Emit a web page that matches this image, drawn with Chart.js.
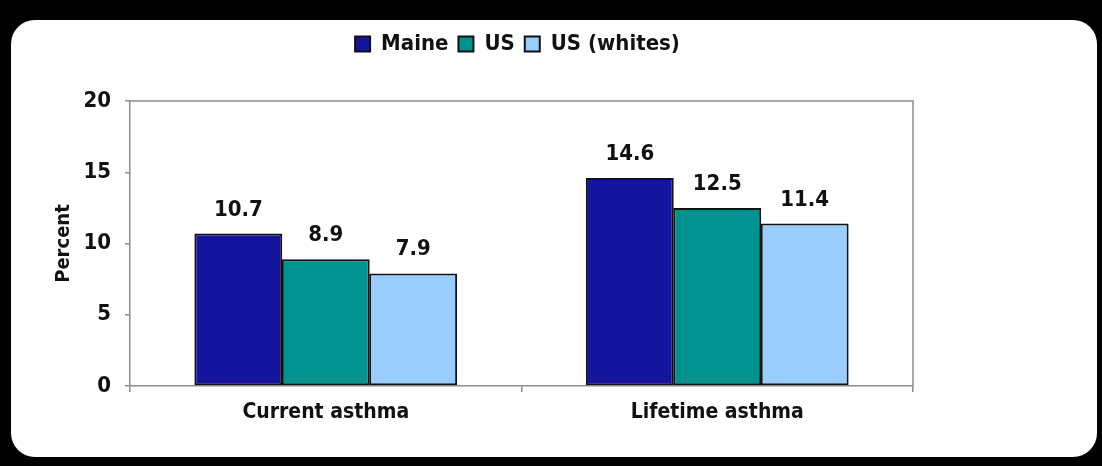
<!DOCTYPE html>
<html>
<head>
<meta charset="utf-8">
<script src="https://cdn.jsdelivr.net/npm/chart.js@4.4.1/dist/chart.umd.min.js"></script>
<style>
  html, body { margin: 0; padding: 0; background: #000; }
  body { width: 1102px; height: 466px; position: relative; overflow: hidden; }
  .panel { position: absolute; left: 11px; top: 20px; width: 1086px; height: 437px; background: #fff; border-radius: 24px; }
  #asthmaChart { position: absolute; left: 0; top: 0; }
</style>
</head>
<body>
<div class="panel"></div>
<canvas id="asthmaChart" width="1102" height="466"></canvas>
<script>
// data
var categories = ['Current asthma', 'Lifetime asthma'];
var seriesNames = ['Maine', 'US', 'US (whites)'];
var maineValues = [10.7, 14.6];
var usValues = [8.9, 12.5];
var usWhitesValues = [7.9, 11.4];
var yTicks = [0, 5, 10, 15, 20];

var fontFamily = '"DejaVu Sans Condensed", "DejaVu Sans", sans-serif';
var axisGray = '#8c8c8c';

// frame round the plot area (top + right sides)
var plotFrame = {
  id: 'plotFrame',
  afterDraw: function(chart) {
    var a = chart.chartArea;
    var ctx = chart.ctx;
    ctx.save();
    ctx.strokeStyle = axisGray;
    ctx.lineWidth = 1.5;
    ctx.beginPath();
    ctx.moveTo(a.left, a.top);
    ctx.lineTo(a.right, a.top);
    ctx.lineTo(a.right, a.bottom);
    ctx.stroke();
    ctx.restore();
  }
};

// value labels above each bar
var barLabels = {
  id: 'barLabels',
  afterDatasetsDraw: function(chart) {
    var ctx = chart.ctx;
    ctx.save();
    ctx.fillStyle = '#111';
    ctx.font = 'bold 22px ' + fontFamily;
    ctx.textAlign = 'center';
    ctx.textBaseline = 'alphabetic';
    chart.data.datasets.forEach(function(ds, i) {
      chart.getDatasetMeta(i).data.forEach(function(bar, j) {
        ctx.fillText(ds.data[j].toFixed(1), bar.x, bar.y - 18);
      });
    });
    ctx.restore();
  }
};

// extra room under the legend, and move it to where it sits in the picture
var legendPlace = {
  id: 'legendPlace',
  beforeInit: function(chart) {
    var legend = chart.legend;
    if (!legend) return;
    var fit = legend.fit;
    legend.fit = function() {
      fit.call(this);
      this.height += 36;
    };
  },
  afterLayout: function(chart) {
    if (!chart.legend) return;
    chart.legend.left += 41;
    chart.legend.right += 41;
  }
};

var ctx = document.getElementById('asthmaChart').getContext('2d');
var asthmaChart = new Chart(ctx, {
  type: 'bar',
  data: {
    labels: categories,
    datasets: [
      { label: seriesNames[0], data: maineValues, backgroundColor: '#14149e' },
      { label: seriesNames[1], data: usValues, backgroundColor: '#00928e' },
      { label: seriesNames[2], data: usWhitesValues, backgroundColor: '#99ccff' }
    ]
  },
  options: {
    responsive: false,
    animation: false,
    layout: { padding: { top: 23, left: 40, right: 189, bottom: 30 } },
    datasets: {
      bar: {
        borderColor: '#111',
        borderWidth: 2,
        borderSkipped: false,
        categoryPercentage: 0.67,
        barPercentage: 1.005
      }
    },
    scales: {
      x: {
        grid: { drawOnChartArea: false, drawTicks: true, tickLength: 6, color: axisGray, lineWidth: 1.5 },
        border: { color: axisGray, width: 1.5 },
        ticks: { color: '#111', padding: 8, font: { family: fontFamily, size: 21, weight: 'bold' } },
        afterFit: function(scale) { scale.height = 50; }
      },
      y: {
        min: 0,
        max: 20,
        afterBuildTicks: function(scale) {
          scale.ticks = yTicks.map(function(v) { return { value: v }; });
        },
        grid: { drawOnChartArea: false, drawTicks: true, tickLength: 5, color: axisGray, lineWidth: 1.5 },
        border: { color: axisGray, width: 1.5 },
        ticks: { color: '#111', padding: 14, font: { family: fontFamily, size: 22, weight: 'bold' } },
        title: {
          display: true,
          text: 'Percent',
          color: '#111',
          padding: { top: 12, bottom: 0 },
          font: { family: fontFamily, size: 20, weight: 'bold' }
        },
        afterFit: function(scale) { scale.width = 90; }
      }
    },
    plugins: {
      legend: {
        position: 'top',
        labels: {
          color: '#111',
          boxWidth: 15,
          boxHeight: 15,
          padding: 10,
          font: { family: fontFamily, size: 22, weight: 'bold' }
        }
      },
      tooltip: { enabled: false }
    }
  },
  plugins: [plotFrame, barLabels, legendPlace]
});
</script>
</body>
</html>
